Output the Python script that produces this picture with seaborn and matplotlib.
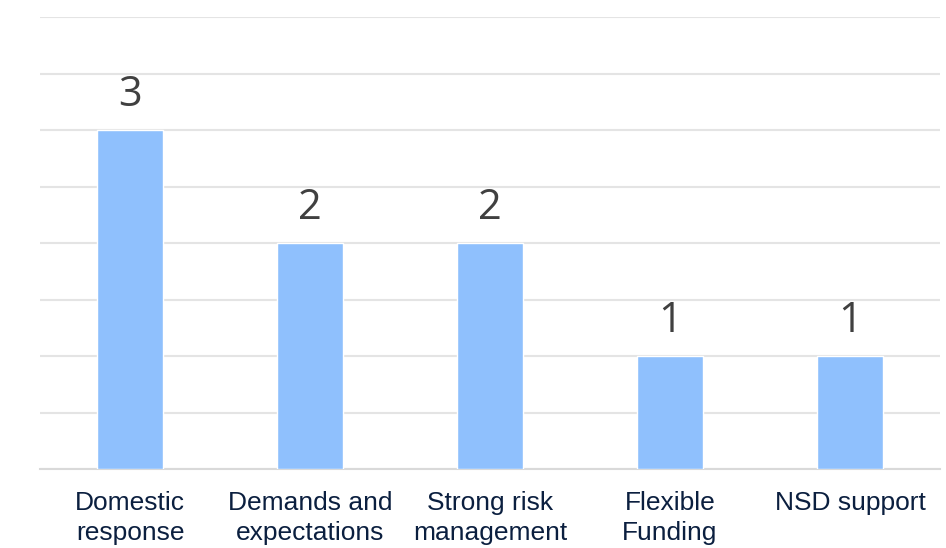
import matplotlib
matplotlib.use("Agg")
import matplotlib.pyplot as plt
import seaborn as sns
import pandas as pd

categories = ["Domestic\nresponse", "Demands and\nexpectations", "Strong risk\nmanagement",
              "Flexible\nFunding", "NSD support"]
values = [3, 2, 2, 1, 1]

sns.set_theme(style="white")
plt.rcParams['font.family'] = ['Liberation Sans', 'DejaVu Sans']

df = pd.DataFrame({"category": categories, "value": values})

fig = plt.figure(figsize=(9.46, 5.48), dpi=100)
ax = fig.add_axes([40/946, 1 - 469/548, 900/946, (469 - 17)/548])

sns.barplot(data=df, x="category", y="value", color="#8fc0fd", saturation=1,
            width=0.37, ax=ax, zorder=3)

ax.set_ylim(0, 4)
ax.set_xlim(-0.5, len(categories) - 0.5)
ax.set_yticks([i * 0.5 for i in range(9)])
ax.yaxis.grid(True, color="#e4e4e4", linewidth=1.5, zorder=0)
ax.set_axisbelow(True)
ax.tick_params(axis="y", left=False, labelleft=False)
ax.tick_params(axis="x", bottom=False, length=0, pad=16, labelsize=19, labelcolor="#0b1f3f")
for lbl in ax.get_xticklabels():
    lbl.set_linespacing(1.3)
for s in ["top", "right", "left"]:
    ax.spines[s].set_visible(False)
ax.spines["bottom"].set_color("#d9d9d9")
ax.spines["bottom"].set_linewidth(1.5)
ax.set_xlabel("")
ax.set_ylabel("")

for i, v in enumerate(values):
    ax.annotate(str(v), (i, v), xytext=(0, 10), textcoords="offset points",
                ha="center", va="bottom", fontsize=30, color="#404040",
                family=["Open Sans", "DejaVu Sans"])

fig.savefig("out.png", dpi=100)
